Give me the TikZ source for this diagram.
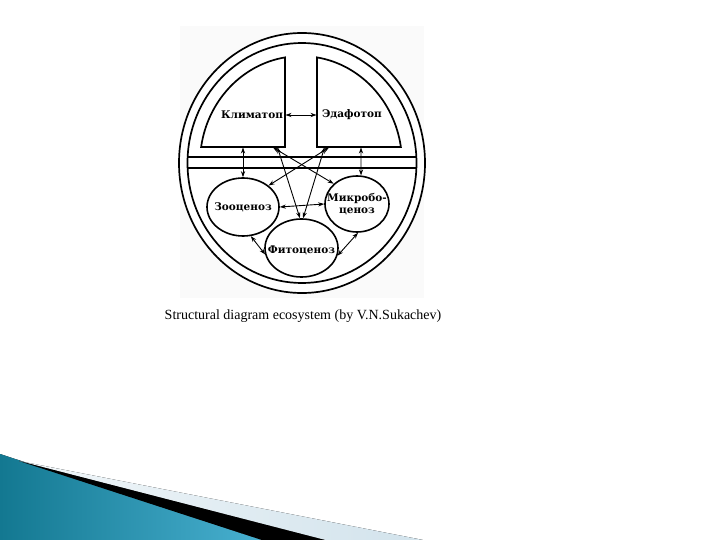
\documentclass[tikz,border=0pt]{standalone}
\usepackage{fontspec}
\setmainfont{Liberation Serif}
\newfontfamily\labfont{DejaVu Serif}
\usetikzlibrary{arrows.meta,shapes.geometric}
\definecolor{tealdark}{HTML}{137891}
\definecolor{teallight}{HTML}{48B0D0}
\definecolor{stripe}{HTML}{D2E3EC}
\definecolor{scan}{HTML}{FAFAFA}
\tikzset{
  thick line/.style={line width=1.7pt},
  ell/.style={ellipse, draw, line width=1.6pt, inner sep=0pt},
  lab/.style={font=\labfont\bfseries\fontsize{10.5}{12}\selectfont, inner sep=0pt, align=center},
  dbl/.style={{Stealth[length=6pt,width=4.2pt]}-{Stealth[length=6pt,width=4.2pt]}, line width=0.9pt},
}
\begin{document}
\begin{tikzpicture}[x=1pt,y=-1pt]
\useasboundingbox (0,0) rectangle (720,540);
% faint scanned background
\fill[scan] (180,26) rectangle (424,298);
% outer and inner ellipse
\draw[thick line, fill=white] (302,163) ellipse [x radius=123pt, y radius=130pt];
\draw[thick line] (302,163) ellipse [x radius=114.5pt, y radius=120pt];
% band
\draw[thick line] (187.7,157) -- (416.3,157);
\draw[thick line] (187.7,168) -- (416.3,168);
% boxes
\draw[thick line, line join=miter] (285,147) -- (285,57.4) arc[start angle=99.1, end angle=171.4, x radius=101pt, y radius=107pt] -- cycle;
\draw[thick line, line join=miter] (317,147) -- (317,57.4) arc[start angle=80.9, end angle=8.6, x radius=101pt, y radius=107pt] -- cycle;
\node[lab] (klim) at (252,115) {Климатоп};
\node[lab] (edaf) at (352,115) {Эдафотоп};
% connector end points on boxes
\coordinate (kr) at (285.5,115);
\coordinate (el) at (316.5,115);
\coordinate (lb1) at (243,147.5);
\coordinate (lb2) at (273,147.5);
\coordinate (lb3) at (277.5,147.5);
\coordinate (rb1) at (361,147.5);
\coordinate (rb2) at (329,147.5);
\coordinate (rb3) at (324.5,147.5);
% ellipse nodes
\node[ell, minimum width=72pt, minimum height=58pt] (zoo) at (243,207) {};
\node[ell, minimum width=64pt, minimum height=56pt] (mik) at (357,204) {};
\node[ell, minimum width=73pt, minimum height=58pt] (fit) at (301.5,248) {};
\node[lab] (zoolab) at (zoo.center) {Зооценоз};
\node[lab] (miklab) at (mik.center) {Микробо-\\ценоз};
\node[lab] (fitlab) at ([yshift=-2pt]fit.center) {Фитоценоз};
% connectors
\draw[dbl] (kr) -- (el);
\draw[dbl] (lb1) -- (zoo.north);
\draw[dbl] (rb1) -- (mik.82);
\draw[dbl] (lb2) -- (mik.139);
\draw[dbl] (lb3) -- (fit.93);
\draw[dbl] (rb2) -- (zoo.40);
\draw[dbl] (rb3) -- (fit.87);
\draw[dbl] (zoo.east) -- (mik.west);
\draw[dbl] (zoo.-75) -- (fit.190);
\draw[dbl] (mik.-88) -- (fit.-12);
% caption
\node[font=\fontsize{14}{16}\selectfont, inner sep=0pt] (cap) at (303,316) {Structural diagram ecosystem (by V.N.Sukachev)};
% slide decoration
\fill[left color=tealdark, right color=teallight] (0,454) -- (262,540) -- (0,540) -- cycle;
\fill[left color=stripe!30, right color=stripe] (19,461) -- (423,540) -- (325,540) -- cycle;
\fill[black] (19,461) -- (325,540) -- (262,540) -- cycle;
\end{tikzpicture}
\end{document}
